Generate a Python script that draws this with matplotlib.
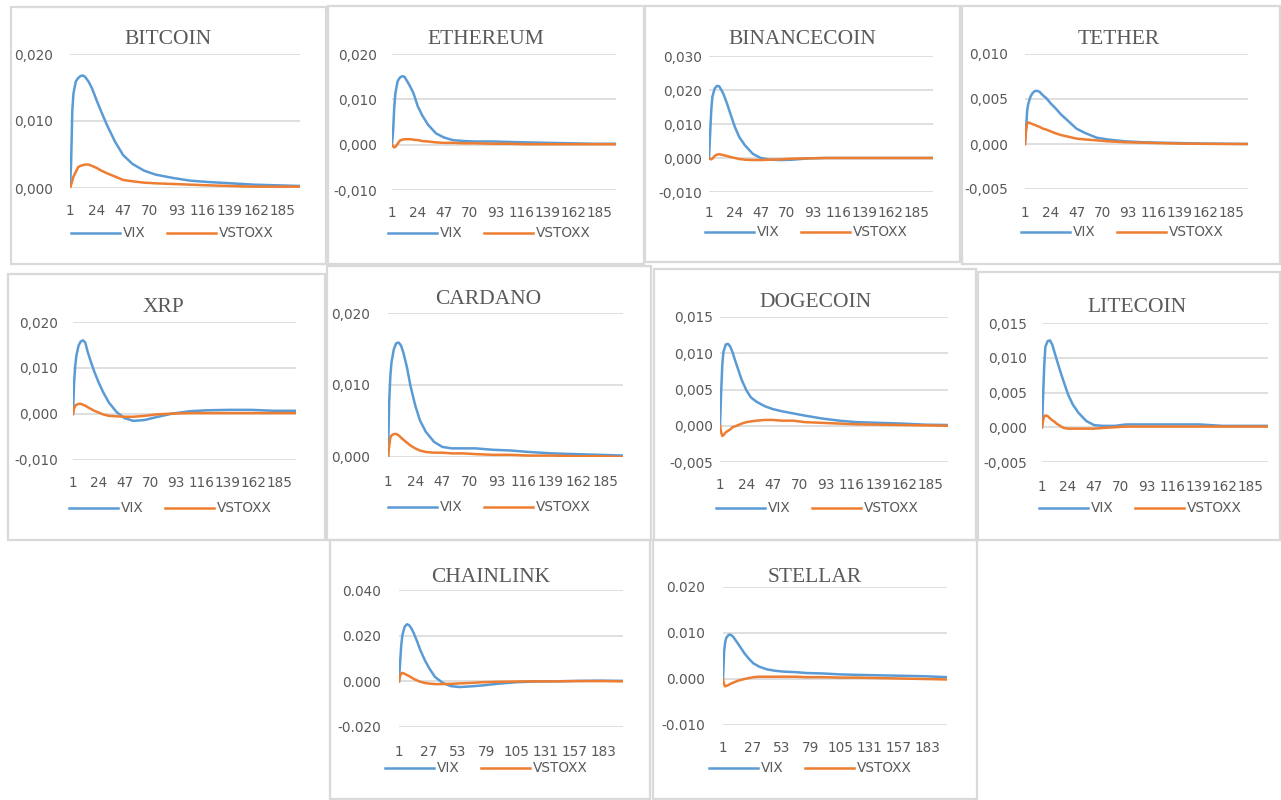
import matplotlib
matplotlib.use("Agg")
import matplotlib.pyplot as plt
from matplotlib.transforms import blended_transform_factory
from matplotlib.lines import Line2D
from matplotlib.patches import Rectangle

# ---------------- data ----------------
LAGS = [1, 2, 3, 4, 6, 8, 10, 12, 14, 17, 20, 24, 28, 33, 40, 47, 55, 65, 75,
        90, 105, 120, 140, 160, 180, 200]

BITCOIN_VIX = [0, 0.0040, 0.0116, 0.0141, 0.0159, 0.0164, 0.0167, 0.0168, 0.0166, 0.0159,
               0.0149, 0.0131, 0.0114, 0.0094, 0.0069, 0.0049, 0.0036, 0.0026, 0.0020,
               0.0015, 0.0011, 0.0009, 0.0007, 0.0005, 0.0004, 0.0003]
BITCOIN_VSTOXX = [0, 0.0005, 0.0011, 0.0017, 0.0024, 0.0031, 0.0033, 0.0034, 0.0035, 0.0035,
                  0.0033, 0.0030, 0.0026, 0.0022, 0.0017, 0.0012, 0.0010, 0.0008, 0.0007,
                  0.0006, 0.0005, 0.0004, 0.0003, 0.0002, 0.0002, 0.0002]

ETHEREUM_VIX = [0, 0.0030, 0.0083, 0.0113, 0.0140, 0.0148, 0.0151, 0.0150, 0.0142, 0.0129,
                0.0114, 0.0084, 0.0064, 0.0044, 0.0025, 0.0016, 0.0010, 0.0008, 0.0007,
                0.0007, 0.0006, 0.0005, 0.0004, 0.0003, 0.0002, 0.0002]
ETHEREUM_VSTOXX = [0, -0.0004, -0.0006, -0.0005, 0.0002, 0.0009, 0.0011, 0.0012, 0.0012, 0.0012,
                   0.0011, 0.0010, 0.0008, 0.0007, 0.0005, 0.0004, 0.0004, 0.0003, 0.0003,
                   0.0002, 0.0002, 0.0001, 0.0001, 0.0001, 0.0001, 0.0001]

BINANCECOIN_VIX = [0, 0.0071, 0.0140, 0.0180, 0.0204, 0.0212, 0.0211, 0.0200, 0.0187, 0.0160,
                   0.0130, 0.0091, 0.0061, 0.0037, 0.0012, 0.0000, -0.0005, -0.0006, -0.0005,
                   -0.0001, 0.0000, 0.0000, 0.0000, 0.0000, 0.0000, 0.0000]
BINANCECOIN_VSTOXX = [0, -0.0003, -0.0004, -0.0002, 0.0006, 0.0010, 0.0011, 0.0010, 0.0008, 0.0006,
                      0.0003, 0.0000, -0.0003, -0.0005, -0.0006, -0.0006, -0.0005, -0.0004, -0.0002,
                      -0.0001, 0.0000, 0.0000, 0.0000, 0.0000, 0.0000, 0.0000]

TETHER_VIX = [0, 0.0019, 0.0038, 0.0045, 0.0053, 0.0057, 0.0059, 0.0059, 0.0058, 0.0054,
              0.0051, 0.0045, 0.0040, 0.0033, 0.0025, 0.0017, 0.0012, 0.0007, 0.0005,
              0.0003, 0.0002, 0.00015, 0.0001, 0.00005, 0.00003, 0.0000]
TETHER_VSTOXX = [0, 0.0016, 0.0023, 0.0024, 0.0023, 0.0022, 0.0021, 0.0020, 0.0019, 0.0017,
                 0.0016, 0.0014, 0.0012, 0.0010, 0.0008, 0.0006, 0.0005, 0.0004, 0.0003,
                 0.0002, 0.00015, 0.0001, 0.00005, 0.00002, 0.0000, 0.0000]

XRP_VIX = [0, 0.0069, 0.0105, 0.0127, 0.0149, 0.0158, 0.0160, 0.0155, 0.0136, 0.0113,
           0.0092, 0.0068, 0.0047, 0.0025, 0.0004, -0.0009, -0.0015, -0.0013, -0.0007,
           0.0001, 0.0006, 0.0008, 0.0009, 0.0009, 0.0007, 0.0007]
XRP_VSTOXX = [0, 0.0012, 0.0018, 0.0020, 0.0022, 0.0022, 0.0020, 0.0018, 0.0015, 0.0011,
              0.0007, 0.0003, -0.0001, -0.0004, -0.0005, -0.0006, -0.0006, -0.0004, -0.0001,
              0.0001, 0.0002, 0.0002, 0.0002, 0.0002, 0.0002, 0.0002]

CARDANO_VIX = [0, 0.0076, 0.0113, 0.0132, 0.0150, 0.0158, 0.0159, 0.0155, 0.0145, 0.0125,
               0.0099, 0.0072, 0.0051, 0.0035, 0.0021, 0.0014, 0.0012, 0.0012, 0.0012,
               0.0010, 0.0009, 0.0007, 0.0005, 0.0004, 0.0003, 0.0002]
CARDANO_VSTOXX = [0, 0.0015, 0.0027, 0.0030, 0.0032, 0.0032, 0.0030, 0.0027, 0.0024, 0.0020,
                  0.0016, 0.0012, 0.0009, 0.0007, 0.0006, 0.0006, 0.0005, 0.0005, 0.0004,
                  0.0003, 0.0003, 0.0002, 0.0002, 0.0001, 0.0001, 0.0000]

DOGECOIN_VIX = [0, 0.0046, 0.0084, 0.0102, 0.0112, 0.0113, 0.0109, 0.0101, 0.0091, 0.0077,
                0.0063, 0.0049, 0.0039, 0.0033, 0.0027, 0.0023, 0.0020, 0.0017, 0.0014,
                0.0010, 0.0007, 0.0005, 0.0004, 0.0003, 0.00015, 0.0001]
DOGECOIN_VSTOXX = [0, -0.0009, -0.0014, -0.0013, -0.0009, -0.0007, -0.0005, -0.0002, -0.0001, 0.0001,
                   0.0003, 0.0005, 0.0006, 0.0007, 0.0008, 0.0008, 0.0007, 0.0007, 0.0005,
                   0.0004, 0.0003, 0.0002, 0.00015, 0.0001, 0.00005, 0.0000]

LITECOIN_VIX = [0, 0.0047, 0.0090, 0.0116, 0.0124, 0.0125, 0.0119, 0.0108, 0.0097, 0.0081,
                0.0066, 0.0047, 0.0033, 0.0021, 0.0009, 0.0003, 0.0002, 0.0002, 0.0004,
                0.0004, 0.0004, 0.0004, 0.0004, 0.0002, 0.0002, 0.0002]
LITECOIN_VSTOXX = [0, 0.0010, 0.0016, 0.0017, 0.0016, 0.0013, 0.0010, 0.0008, 0.0005, 0.0002,
                   -0.0001, -0.0002, -0.0002, -0.0002, -0.0002, -0.0002, -0.0001, 0.0000, 0.0001,
                   0.0001, 0.0001, 0.0001, 0.0001, 0.0001, 0.0001, 0.0001]

CHAINLINK_VIX = [0, 0.0085, 0.0158, 0.0202, 0.0239, 0.0250, 0.0246, 0.0232, 0.0212, 0.0176,
                 0.0136, 0.0092, 0.0056, 0.0019, -0.0007, -0.0021, -0.0025, -0.0022, -0.0018,
                 -0.0010, -0.0004, -0.0001, 0.0000, 0.0002, 0.0003, 0.0002]
CHAINLINK_VSTOXX = [0, 0.0025, 0.0035, 0.0037, 0.0033, 0.0028, 0.0023, 0.0017, 0.0011, 0.0004,
                    -0.0002, -0.0007, -0.0010, -0.0012, -0.0012, -0.0011, -0.0009, -0.0007, -0.0004,
                    -0.0002, -0.0001, 0.0000, 0.0000, 0.0001, 0.0001, 0.0000]

STELLAR_VIX = [0, 0.0060, 0.0081, 0.0090, 0.0096, 0.0096, 0.0092, 0.0085, 0.0078, 0.0067,
               0.0056, 0.0044, 0.0034, 0.0027, 0.0021, 0.0018, 0.0016, 0.0015, 0.0013,
               0.0012, 0.0010, 0.0009, 0.0008, 0.0007, 0.0006, 0.0004]
STELLAR_VSTOXX = [0, -0.0012, -0.0016, -0.0015, -0.0013, -0.0010, -0.0008, -0.0006, -0.0004, -0.0002,
                  0.0000, 0.0002, 0.0004, 0.0005, 0.0005, 0.0005, 0.0005, 0.0005, 0.0004,
                  0.0004, 0.0003, 0.0003, 0.0002, 0.0001, 0.0000, -0.0001]

TOP_TICKS = [1, 24, 47, 70, 93, 116, 139, 162, 185]
BOTTOM_TICKS = [1, 27, 53, 79, 105, 131, 157, 183]
SERIES_NAMES = ["VIX", "VSTOXX"]

# ---------------- layout (pixels, y measured from top) ----------------
W, H = 1281, 800
# name, vix, vstoxx, border(x0,y0,x1,y1), plot(xl,xr,ytop,ybot), ylim, ystep,
# title(x,y), tick label y, legend (x,y), decimal sep, xticks, ylabel pad px
PANELS = [
    ("BITCOIN", BITCOIN_VIX, BITCOIN_VSTOXX, (11, 7, 326, 264), (70, 300, 54, 188),
     (0.0, 0.020), 0.010, (168, 40), 211, (71, 233), ",", TOP_TICKS, 17),
    ("ETHEREUM", ETHEREUM_VIX, ETHEREUM_VSTOXX, (328, 6, 644, 264), (392, 616, 54, 190),
     (-0.010, 0.020), 0.010, (486, 40), 213, (388, 233), ",", TOP_TICKS, 15),
    ("BINANCECOIN", BINANCECOIN_VIX, BINANCECOIN_VSTOXX, (645, 6, 960, 262), (709, 933, 56, 192),
     (-0.010, 0.030), 0.010, (802, 40), 213, (705, 232), ",", TOP_TICKS, 7),
    ("TETHER", TETHER_VIX, TETHER_VSTOXX, (962, 6, 1280, 264), (1025, 1248, 54, 189),
     (-0.005, 0.010), 0.005, (1119, 40), 213, (1021, 232), ",", TOP_TICKS, 17),
    ("XRP", XRP_VIX, XRP_VSTOXX, (8, 274, 325, 540), (73, 296, 322, 460),
     (-0.010, 0.020), 0.010, (163, 308), 483, (69, 508), ",", TOP_TICKS, 15),
    ("CARDANO", CARDANO_VIX, CARDANO_VSTOXX, (327, 266, 651, 540), (388, 623, 313, 457),
     (0.0, 0.020), 0.010, (488, 300), 482, (388, 507), ",", TOP_TICKS, 18),
    ("DOGECOIN", DOGECOIN_VIX, DOGECOIN_VSTOXX, (654, 269, 976, 540), (720, 948, 317, 462),
     (-0.005, 0.015), 0.005, (815, 303), 485, (716, 508), ",", TOP_TICKS, 7),
    ("LITECOIN", LITECOIN_VIX, LITECOIN_VSTOXX, (978, 272, 1280, 540), (1042, 1268, 323, 462),
     (-0.005, 0.015), 0.005, (1137, 307), 487, (1039, 508), ",", TOP_TICKS, 15),
    ("CHAINLINK", CHAINLINK_VIX, CHAINLINK_VSTOXX, (330, 540, 650, 799), (399, 623, 590, 727),
     (-0.020, 0.040), 0.020, (491, 577), 752, (385, 768), ".", BOTTOM_TICKS, 18),
    ("STELLAR", STELLAR_VIX, STELLAR_VSTOXX, (653, 540, 977, 799), (723, 947, 587, 725),
     (-0.010, 0.020), 0.010, (815, 577), 748, (709, 768), ".", BOTTOM_TICKS, 18),
]

VIX_COLOR = "#5B9BD5"
VSTOXX_COLOR = "#ED7D31"
GRID_COLOR = "#D9D9D9"
TEXT_COLOR = "#595959"
TICK_FONT = "DejaVu Sans"
TITLE_FONT = "Liberation Serif"

fig = plt.figure(figsize=(W / 100, H / 100), dpi=100)
fig.patch.set_facecolor("white")


def fx(px):
    return px / W


def fy(py):
    return 1 - py / H


for (name, vix, vstoxx, border, plot, ylim, ystep, title_xy, tick_y, leg_xy,
     dec, xticks, ypad) in PANELS:
    # panel border
    bx0, by0, bx1, by1 = border
    fig.patches.append(Rectangle((fx(bx0), fy(by1)), fx(bx1 - bx0), (by1 - by0) / H,
                                 transform=fig.transFigure, fill=False,
                                 edgecolor=GRID_COLOR, linewidth=1.6, zorder=0))
    xl, xr, yt, yb = plot
    ax = fig.add_axes([fx(xl), fy(yb), fx(xr - xl), (yb - yt) / H])
    ax.set_facecolor("none")
    ax.plot(LAGS, vix, color=VIX_COLOR, lw=1.8, solid_joinstyle="round", zorder=3)
    ax.plot(LAGS, vstoxx, color=VSTOXX_COLOR, lw=1.8, solid_joinstyle="round", zorder=4)
    ax.set_xlim(1, 200)
    ax.set_ylim(*ylim)
    n = int(round((ylim[1] - ylim[0]) / ystep))
    yt_vals = [ylim[0] + i * ystep for i in range(n + 1)]
    ax.set_yticks(yt_vals)
    ax.set_yticklabels([("%.3f" % v).replace(".", dec).replace("-0" + dec + "000", "0" + dec + "000")
                        for v in yt_vals], fontfamily=TICK_FONT, fontsize=9.8, color=TEXT_COLOR)
    ax.tick_params(axis="y", length=0, pad=ypad / 1.389)
    ax.set_xticks([])
    for s in ax.spines.values():
        s.set_visible(False)
    ax.grid(axis="y", color=GRID_COLOR, lw=1.2, zorder=0)
    ax.set_axisbelow(True)
    # x tick labels
    tr = blended_transform_factory(ax.transData, fig.transFigure)
    for t in xticks:
        ax.text(t, fy(tick_y), str(t), transform=tr, ha="center", va="center",
                fontfamily=TICK_FONT, fontsize=9.8, color=TEXT_COLOR, clip_on=False)
    # title
    fig.text(fx(title_xy[0]), fy(title_xy[1]), name, ha="center", va="center",
             fontfamily=TITLE_FONT, fontsize=15.5, color=TEXT_COLOR)
    # legend
    lx, ly = leg_xy
    for off, col, lab in ((0, VIX_COLOR, SERIES_NAMES[0]), (96, VSTOXX_COLOR, SERIES_NAMES[1])):
        fig.lines.append(Line2D([fx(lx + off), fx(lx + off + 49)], [fy(ly), fy(ly)],
                                transform=fig.transFigure, color=col, lw=1.8))
        fig.text(fx(lx + off + 52), fy(ly), lab, ha="left", va="center",
                 fontfamily=TICK_FONT, fontsize=9.8, color=TEXT_COLOR)

fig.savefig("out.png", dpi=100, facecolor="white")
